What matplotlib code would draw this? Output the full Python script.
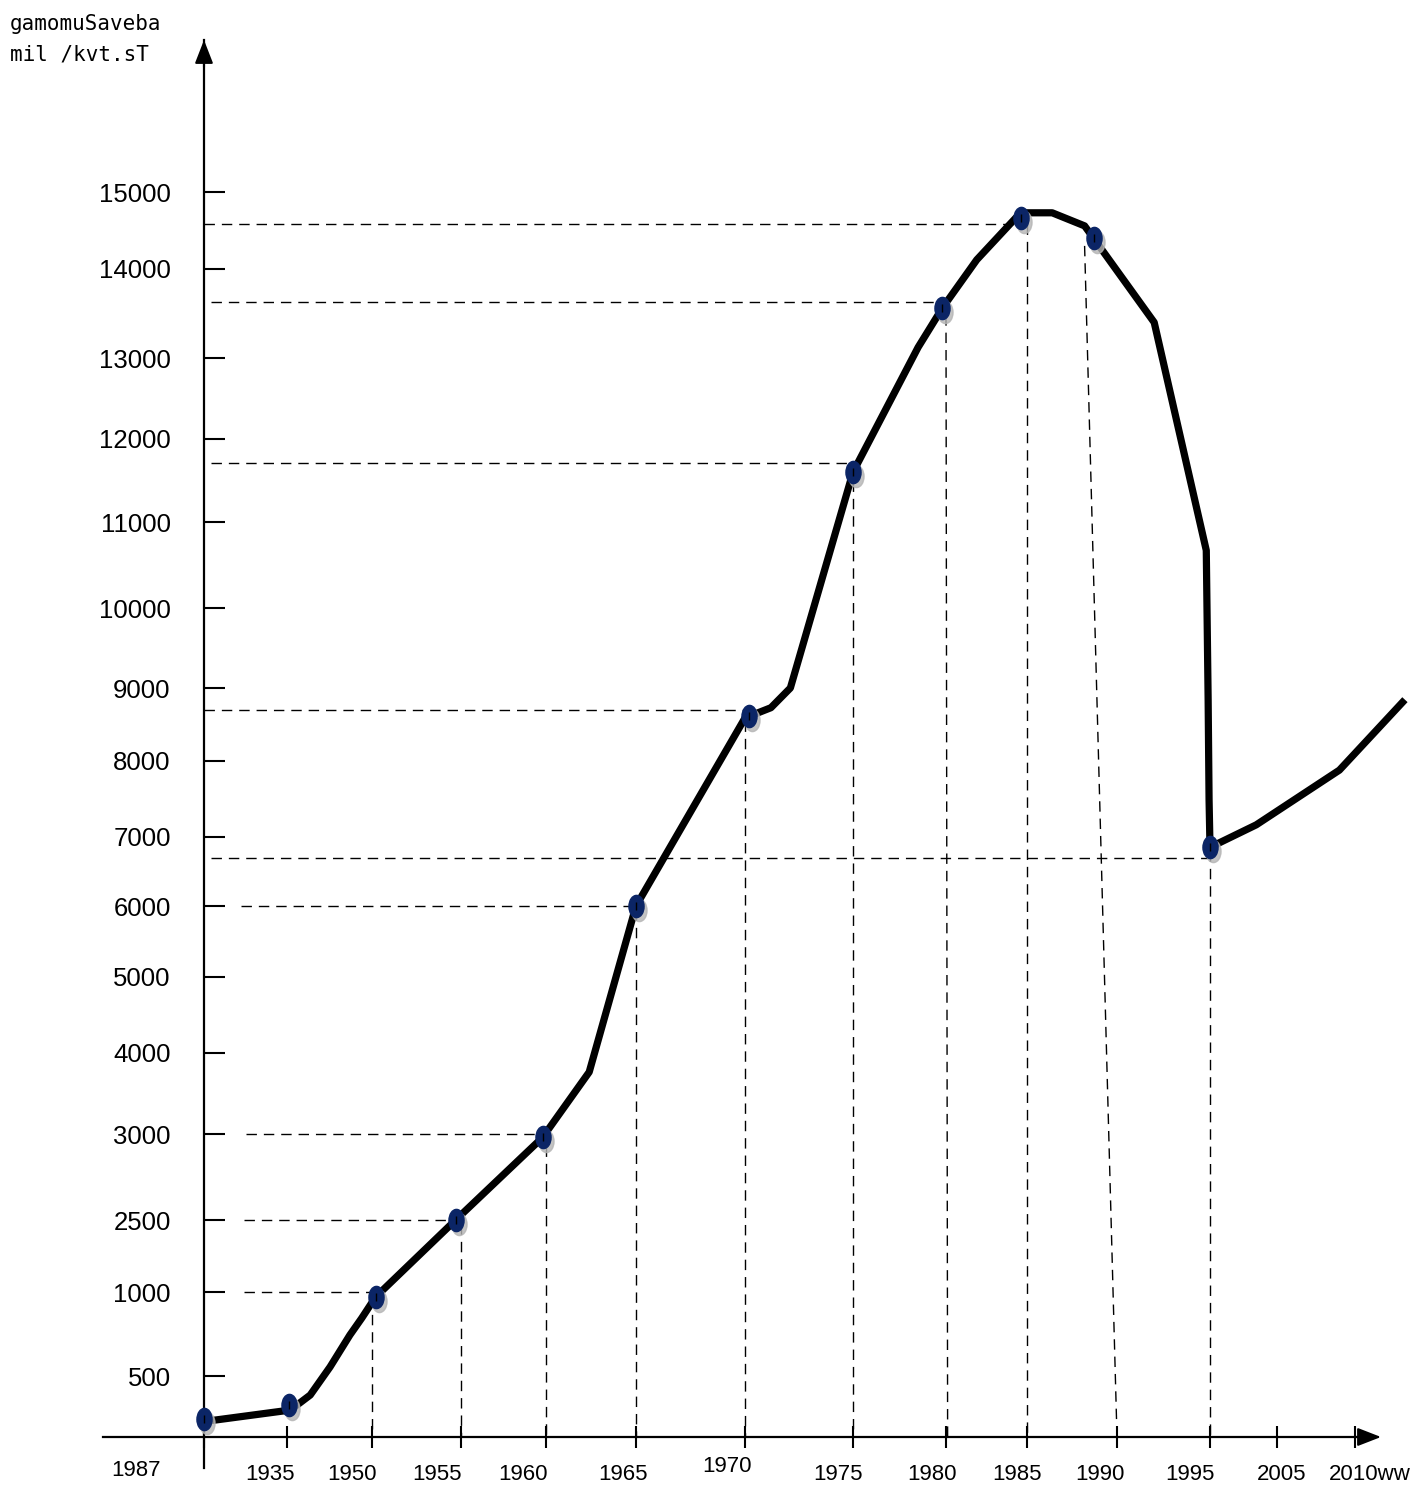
import numpy as np
import matplotlib
matplotlib.use("Agg")
import matplotlib.pyplot as plt
import matplotlib.transforms as mtransforms
from matplotlib.path import Path

# --- data ---
line_years = [1929.8, 1935.6, 1939.1, 1942.6, 1946.1, 1948.2, 1950.2, 1954.7, 1959.8,
              1962.4, 1965.0, 1970.0, 1971.2, 1972.1, 1975.0, 1978.5, 1979.8, 1981.9,
              1984.6, 1986.4, 1988.2, 1988.7, 1992.0, 1994.8, 1994.9, 1994.95, 1995.0,
              2001.9, 2009.0, 2013.2]
line_values = [123, 221, 344, 554, 744, 845, 970, 2500, 2980,
               3765, 6000, 8590, 8730, 9000, 11600, 13120, 13560, 14120,
               14730, 14730, 14560, 14400, 13400, 10670, 8840, 7490, 6850,
               7160, 7880, 8840]

point_years = [1930, 1935.3, 1950.2, 1954.7, 1959.8, 1965.0, 1970.2, 1975.0, 1979.8,
               1984.6, 1988.7, 1995.0]
point_values = [150, 260, 970, 2500, 2980, 6000, 8620, 11600, 13560, 14660, 14400, 6850]

# horizontal guides: level, start year, end year
hguide_values = [14580, 13630, 11710, 8700, 6700, 6000, 3000, 2500, 1000]
hguide_start = [1930, 1930.4, 1930.4, 1930, 1930.4, 1932.2, 1932.5, 1932.4, 1932.4]
hguide_end = [1985.0, 1980.0, 1975.0, 1970.2, 1995.0, 1965.0, 1959.8, 1954.7, 1950.0]

# vertical guides: top (year, value) -> bottom year on the axis
vguide_top_years = [1950, 1955, 1960, 1965, 1970, 1975, 1980, 1985, 1988.2, 1995]
vguide_top_values = [970, 2420, 2930, 5950, 8550, 11500, 13480, 14580, 14300, 6800]
vguide_bottom_years = [1950, 1955, 1960, 1965, 1970, 1975, 1980.1, 1985, 1990, 1995]

y_ticks = [500, 1000, 2500, 3000, 4000, 5000, 6000, 7000, 8000, 9000, 10000,
           11000, 12000, 13000, 14000, 15000]
x_tick_years = [1930, 1935, 1950, 1955, 1960, 1965, 1970, 1975, 1980, 1985, 1990,
                1995, 2005, 2010]
x_tick_labels = ["1987", "1935", "1950", "1955", "1960", "1965", "1970", "1975",
                 "1980", "1985", "1990", "1995", "2005", "2010ww"]

# --- hand-drawn axis scales (value -> pixel distance) ---
Y_SCALE_VAL = [-1000, 0, 500, 1000, 2500, 3000, 4000, 5000, 6000, 7000, 8000, 9000,
               10000, 11000, 12000, 13000, 14000, 15000, 20000]
Y_SCALE_PX = [-122, 0, 61, 145, 217, 303, 384, 460, 531, 600, 676, 749,
              829, 915, 998, 1079, 1168, 1245, 1645]
X_SCALE_YEAR = [1900, 1930, 1935, 1950, 1955, 1960, 1965, 1970, 1975, 1980, 1985,
                1990, 1995, 2005, 2010, 2030]
X_SCALE_PX = [-296, 204, 287, 372, 461, 546, 636, 745, 853, 946, 1027,
              1117, 1210, 1277, 1355, 1667]


def yf(v):
    return np.interp(v, Y_SCALE_VAL, Y_SCALE_PX)


def yi(p):
    return np.interp(p, Y_SCALE_PX, Y_SCALE_VAL)


def xf(v):
    return np.interp(v, X_SCALE_YEAR, X_SCALE_PX)


def xi(p):
    return np.interp(p, X_SCALE_PX, X_SCALE_YEAR)


W, H = 1425, 1485
fig = plt.figure(figsize=(W / 100, H / 100), dpi=100)
ax = fig.add_axes([0, 0, 1, 1])
ax.set_xscale("function", functions=(xf, xi))
ax.set_yscale("function", functions=(yf, yi))
ax.set_xlim(xi(0), xi(W))
ax.set_ylim(yi(-48), yi(1437))

font = ["Liberation Sans", "DejaVu Sans"]

# axes lines
for s in ["top", "right"]:
    ax.spines[s].set_visible(False)
ax.spines["left"].set_position(("data", 1930))
ax.spines["bottom"].set_position(("data", 0))
ax.spines["left"].set_bounds(yi(-31), yi(1397))
ax.spines["bottom"].set_bounds(xi(103), xi(1375))
ax.spines["left"].set_linewidth(1.6)
ax.spines["bottom"].set_linewidth(1.6)
head = "-|>,head_length=0.9,head_width=0.35"
ax.annotate("", xy=(1930, yi(1397)), xytext=(1930, yi(1370)),
            arrowprops=dict(arrowstyle=head, color="black", lw=1.5,
                            mutation_scale=16, shrinkA=0, shrinkB=0))
ax.annotate("", xy=(xi(1381), 0), xytext=(xi(1355), 0),
            arrowprops=dict(arrowstyle=head, color="black", lw=1.5,
                            mutation_scale=16, shrinkA=0, shrinkB=0))

ax.set_yticks(y_ticks)
ax.set_yticklabels([str(t) for t in y_ticks], family=font, fontsize=18.5)
ax.tick_params(axis="y", direction="in", length=15, width=1.5, pad=24)
ax.set_xticks(x_tick_years)
ax.set_xticklabels([])
ax.tick_params(axis="x", direction="inout", length=16, width=1.5)
ax.minorticks_off()

# x labels placed by hand like the sketch
label_dx = [-68, -17, -20, -24, -23, -13, -18, -15, -14, -10, -17, -20, 5, 15]
label_dy = [-33, -37, -37, -37, -37, -37, -30, -37, -37, -37, -37, -37, -37, -37]
for yr, lab, dx, dy in zip(x_tick_years, x_tick_labels, label_dx, label_dy):
    ax.annotate(lab, xy=(yr, 0), xytext=(dx * 0.72, dy * 0.72),
                textcoords="offset points", ha="center", va="center",
                family=font, fontsize=16)

# dashed guides
for v, a, b in zip(hguide_values, hguide_start, hguide_end):
    ax.plot([a, b], [v, v], color="black", lw=1.0, dashes=(7.5, 5))
for yt, vt, yb in zip(vguide_top_years, vguide_top_values, vguide_bottom_years):
    ax.plot([yt, yb], [vt, 0], color="black", lw=1.0, dashes=(7.5, 5))

# main curve
ax.plot(line_years, line_values, color="black", lw=5.2, solid_joinstyle="round",
        solid_capstyle="butt", zorder=4)

# oval markers with a grey shadow
ellipse = Path.unit_circle().transformed(mtransforms.Affine2D().scale(0.68, 1.0))
shadow = mtransforms.offset_copy(ax.transData, fig=fig, x=3, y=-4, units="dots")
ax.plot(point_years, point_values, ls="none", marker=ellipse, ms=16, color="#b5b5b5",
        alpha=0.8, transform=shadow, zorder=5)
ax.plot(point_years, point_values, ls="none", marker=ellipse, ms=16, color="#0b2566",
        zorder=6)
ax.plot(point_years, point_values, ls="none", marker="|", ms=6, mew=1, color="black",
        zorder=7)

# axis title (top-left)
fig.text(10 / W, 1 - 30 / H, "gamomuSaveba", fontsize=15, family="DejaVu Sans Mono")
fig.text(10 / W, 1 - 61 / H, "mil /kvt.sT", fontsize=15, family="DejaVu Sans Mono")

fig.savefig("out.png", dpi=100)
